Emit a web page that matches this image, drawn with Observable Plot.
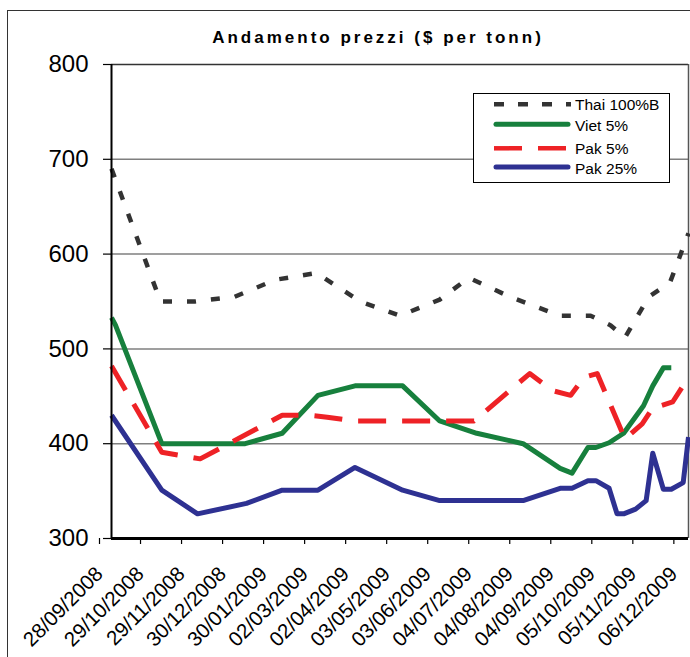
<!DOCTYPE html>
<html>
<head>
<meta charset="utf-8">
<script src="https://cdn.jsdelivr.net/npm/d3@7"></script>
<script src="https://cdn.jsdelivr.net/npm/@observablehq/plot@0.6"></script>
<style>
  html, body { margin: 0; padding: 0; background: #fff; }
  #wrap { position: relative; width: 690px; height: 657px; overflow: hidden; font-family: "Liberation Sans", Arial, sans-serif; background: #fff; }
  #border { position: absolute; left: 7px; top: 10px; width: 760px; height: 760px; border: 1.5px solid #333; box-sizing: border-box; pointer-events: none; }
  #title { position: absolute; left: 0; top: 29px; width: 756px; text-align: center; font-weight: bold; font-size: 17px; line-height: 17px; letter-spacing: 3px; color: #000; white-space: nowrap; }
  #chart { position: absolute; left: 0; top: 0; }
  #legend { position: absolute; left: 473px; top: 93px; width: 197px; height: 90px; border: 1px solid #000; box-sizing: border-box; background: #fff; }
</style>
</head>
<body>
<div id="wrap">
  <div id="chart"></div>
  <div id="border"></div>
  <div id="title">Andamento prezzi ($ per tonn)</div>
  <div id="legend"></div>
</div>
<script>
// ---- Data ----
const seriesNames = ["Thai 100%B", "Viet 5%", "Pak 5%", "Pak 25%"];

const thaiDates = ["2008-09-28","2008-11-04","2008-11-30","2008-12-30","2009-01-30","2009-03-02","2009-04-04","2009-05-04","2009-06-03","2009-06-25","2009-07-26","2009-09-02","2009-09-25","2009-10-10","2009-10-21","2009-11-08","2009-11-24","2009-12-08"];
const thaiValues = [690,550,550,555,573,580,550,535,552,575,555,535,535,525,512,555,570,622];

const vietDates = ["2008-09-28","2008-10-01","2008-11-05","2009-01-07","2009-02-04","2009-03-03","2009-03-31","2009-05-06","2009-06-03","2009-07-01","2009-08-05","2009-09-02","2009-09-11","2009-09-23","2009-09-29","2009-10-09","2009-10-20","2009-11-04","2009-11-11","2009-11-19","2009-11-25"];
const vietValues = [533,525,400,400,411,451,461,461,424,411,400,374,369,396,396,401,411,440,461,480,480];

const pak5Dates = ["2008-09-28","2008-11-05","2008-12-04","2009-02-04","2009-02-24","2009-03-10","2009-03-30","2009-06-29","2009-08-10","2009-08-27","2009-09-10","2009-09-20","2009-09-30","2009-10-21","2009-11-03","2009-11-12","2009-11-17","2009-11-26","2009-12-08"];
const pak5Values = [482,391,384,430,430,428,424,424,474,456,451,470,474,405,421,440,440,444,470];

const pak25Dates = ["2008-09-28","2008-11-05","2008-12-02","2009-01-08","2009-02-04","2009-03-03","2009-03-31","2009-05-06","2009-06-03","2009-08-05","2009-09-02","2009-09-11","2009-09-23","2009-09-29","2009-10-09","2009-10-15","2009-10-20","2009-10-29","2009-11-06","2009-11-11","2009-11-19","2009-11-25","2009-12-04","2009-12-08"];
const pak25Values = [430,351,326,337,351,351,375,351,340,340,353,353,361,361,353,326,326,331,340,390,352,352,359,407];

const xTickLabels = ["28/09/2008","29/10/2008","29/11/2008","30/12/2008","30/01/2009","02/03/2009","02/04/2009","03/05/2009","03/06/2009","04/07/2009","04/08/2009","04/09/2009","05/10/2009","05/11/2009","06/12/2009"];
const yTicks = [300, 400, 500, 600, 700, 800];
const xDomain = ["2008-09-28", "2009-12-08"];
const yDomain = [300, 800];

// ---- Styles ----
const colors = {"Thai 100%B": "#333333", "Viet 5%": "#17803d", "Pak 5%": "#ee2226", "Pak 25%": "#2e3192"};
const dashes = {"Thai 100%B": "9,15", "Viet 5%": null, "Pak 5%": "28,16", "Pak 25%": null};

const parseISO = d3.utcParse("%Y-%m-%d");
const parseTick = d3.utcParse("%d/%m/%Y");
const fmtTick = d3.utcFormat("%d/%m/%Y");

function rows(name, dates, values) {
  return dates.map((d, i) => ({series: name, date: parseISO(d), value: values[i]}));
}
const thai = rows("Thai 100%B", thaiDates, thaiValues);
const viet = rows("Viet 5%", vietDates, vietValues);
const pak5 = rows("Pak 5%", pak5Dates, pak5Values);
const pak25 = rows("Pak 25%", pak25Dates, pak25Values);

const xTicks = xTickLabels.map(parseTick);
const xd = xDomain.map(parseISO);

function lineMark(data, name) {
  const o = {x: "date", y: "value", stroke: colors[name], strokeWidth: name === "Thai 100%B" ? 4.5 : 5, strokeLinejoin: "round", strokeLinecap: "butt"};
  if (dashes[name]) o.strokeDasharray = dashes[name];
  return Plot.line(data, o);
}

const chart = Plot.plot({
  width: 690,
  height: 657,
  marginTop: 64,
  marginBottom: 119,
  marginLeft: 111,
  marginRight: 2,
  style: {fontFamily: "'Liberation Sans', Arial, sans-serif", background: "transparent", color: "#000"},
  x: {type: "utc", domain: xd, label: null},
  y: {domain: yDomain, label: null},
  marks: [
    Plot.gridY(yTicks.filter(v => v > 300 && v < 800), {stroke: "#7f7f7f", strokeOpacity: 1, strokeWidth: 1.5}),
    Plot.ruleY([yDomain[1]], {stroke: "#333", strokeWidth: 1.5}),
    Plot.ruleX([xd[1]], {stroke: "#555", strokeWidth: 1.5}),
    lineMark(thai, "Thai 100%B"),
    lineMark(viet, "Viet 5%"),
    lineMark(pak5, "Pak 5%"),
    lineMark(pak25, "Pak 25%"),
    Plot.ruleX([xd[0]], {stroke: "#000", strokeWidth: 2}),
    Plot.ruleY([yDomain[0]], {stroke: "#000", strokeWidth: 3}),
    Plot.axisY(yTicks, {tickSize: 8, tickPadding: 15, fontSize: 24, stroke: "#000", strokeWidth: 1.2, label: null}),
    Plot.axisX(xTicks, {tickSize: 6, tickRotate: -45, tickPadding: 26, dx: -12, fontSize: 20.5, tickFormat: fmtTick, stroke: "#000", strokeWidth: 1.2, label: null})
  ]
});
document.getElementById("chart").appendChild(chart);

// ---- Legend ----
const legendRows = [
  {name: "Thai 100%B", ly: 10.3, ty: 15.5},
  {name: "Viet 5%", ly: 30.3, ty: 37},
  {name: "Pak 5%", ly: 54.3, ty: 59.7},
  {name: "Pak 25%", ly: 73, ty: 79.7}
];
const lsvg = d3.select("#legend").append("svg").attr("width", 195).attr("height", 88)
  .style("position", "absolute").style("left", "0").style("top", "0");
legendRows.forEach(r => {
  const solid = !dashes[r.name];
  lsvg.append("line")
    .attr("x1", solid ? 22 : 20).attr("x2", solid ? 94 : 97)
    .attr("y1", r.ly).attr("y2", r.ly)
    .attr("stroke", colors[r.name]).attr("stroke-width", solid ? 5 : 4.5)
    .attr("stroke-linecap", solid ? "round" : "butt")
    .attr("stroke-dasharray", r.name === "Thai 100%B" ? "10,14" : (dashes[r.name] ? "28,16" : null));
  lsvg.append("text").attr("x", 101).attr("y", r.ty)
    .attr("font-family", "'Liberation Sans', Arial, sans-serif").attr("font-size", 15.5).attr("fill", "#000")
    .text(r.name);
});
</script>
</body>
</html>
